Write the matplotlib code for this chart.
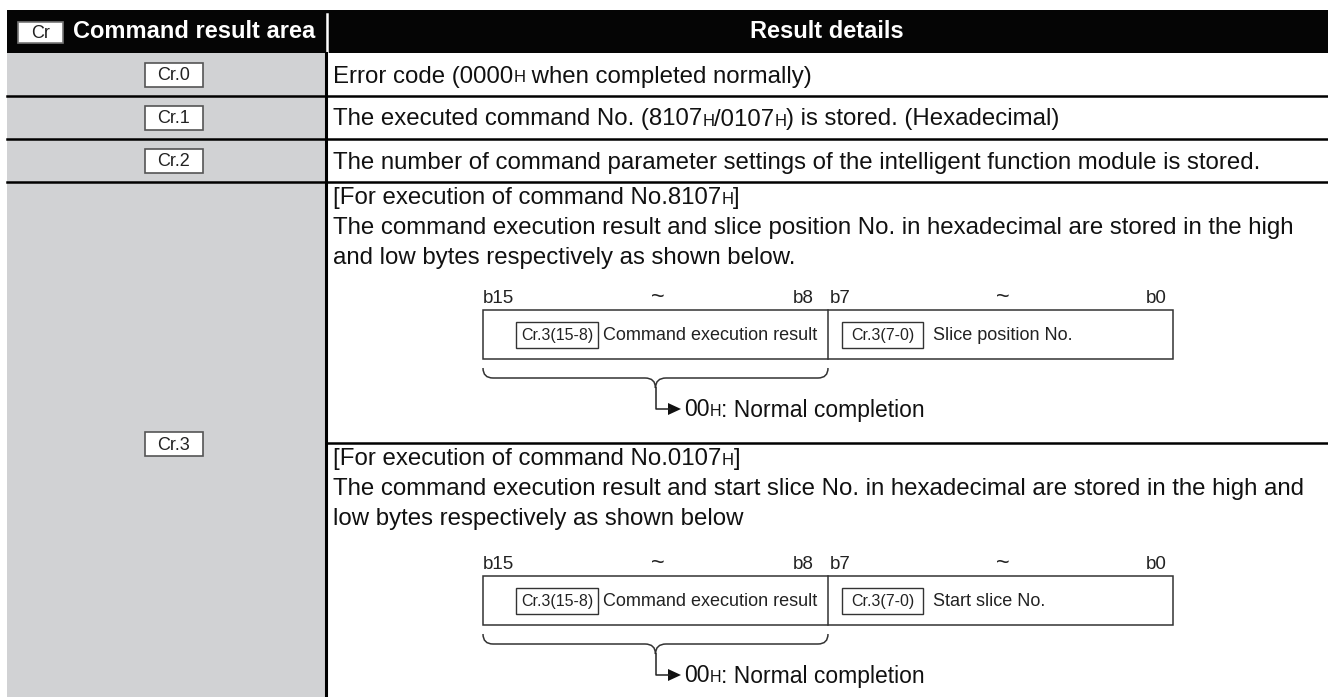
import matplotlib
matplotlib.use("Agg")
import matplotlib.pyplot as plt
from matplotlib.patches import Rectangle, Polygon, PathPatch
from matplotlib.path import Path

plt.rcParams['font.family'] = ['Liberation Sans', 'DejaVu Sans']

#%% table content

header_left = "Command result area"
header_icon = "Cr"
header_right = "Result details"

row_labels = ["Cr.0", "Cr.1", "Cr.2", "Cr.3"]

# each line is a list of pieces, every odd piece is the small "H" suffix
row_lines = [
    [["Error code (0000", "H", " when completed normally)"]],
    [["The executed command No. (8107", "H", "/0107", "H", ") is stored. (Hexadecimal)"]],
    [["The number of command parameter settings of the intelligent function module is stored."]],
]

block_lines = [
    [["[For execution of command No.8107", "H", "]"],
     ["The command execution result and slice position No. in hexadecimal are stored in the high"],
     ["and low bytes respectively as shown below."]],
    [["[For execution of command No.0107", "H", "]"],
     ["The command execution result and start slice No. in hexadecimal are stored in the high and"],
     ["low bytes respectively as shown below"]],
]

bit_labels = ["b15", "~", "b8", "b7", "~", "b0"]
field_codes = ["Cr.3(15-8)", "Cr.3(7-0)"]
field_names = [["Command execution result", "Slice position No."],
               ["Command execution result", "Start slice No."]]
result_note = ["00", "H", ": Normal completion"]

#%% layout (pixels)

W, H = 1328, 697
x0, xmid, x1 = 7, 326, 1328
row_edges = [10, 53, 96, 139, 182]
split_y = 443
bottom = 706
gray = "#d1d2d4"
body_fs = 17.3
small_fs = 12

fig = plt.figure(figsize=(W / 100, H / 100), dpi=100)
ax = fig.add_axes([0, 0, 1, 1])
ax.set_xlim(0, W)
ax.set_ylim(H, 0)
ax.axis('off')
rend = fig.canvas.get_renderer()


def put_runs(x, y, pieces, fs=body_fs, sfs=small_fs, **kw):
    for i, s in enumerate(pieces):
        t = ax.text(x, y, s, fontsize=(sfs if i % 2 else fs), ha='left',
                    va='baseline', color='#111111', **kw)
        x += t.get_window_extent(renderer=rend).width
    return x


def label_box(cx, cy, s, w=58, h=24, fs=13):
    ax.add_patch(Rectangle((cx - w / 2, cy - h / 2), w, h, facecolor='white',
                           edgecolor='#555555', lw=1.2))
    ax.text(cx, cy + 1, s, fontsize=fs, ha='center', va='center', color='#222222')


# header
ax.add_patch(Rectangle((x0, row_edges[0]), x1 - x0, row_edges[1] - row_edges[0],
                       facecolor='#050505', edgecolor='none'))
ax.plot([xmid + 1, xmid + 1], [row_edges[0] + 4, row_edges[1]], color='white', lw=1.8)
ax.add_patch(Rectangle((18, 22), 45, 21, facecolor='white', edgecolor='#777777', lw=1.2))
ax.text(40.5, 33, header_icon, fontsize=13, ha='center', va='center', color='#222222')
ax.text(73, 32, header_left, fontsize=17, fontweight='bold', color='white',
        ha='left', va='center')
ax.text((xmid + x1) / 2, 32, header_right, fontsize=17, fontweight='bold',
        color='white', ha='center', va='center')

# left gray column
ax.add_patch(Rectangle((x0, row_edges[1]), xmid - x0, bottom - row_edges[1],
                       facecolor=gray, edgecolor='none'))

# horizontal rules
for y in row_edges[2:]:
    ax.plot([x0, x1], [y, y], color='black', lw=1.8)
ax.plot([xmid, x1], [split_y, split_y], color='black', lw=1.8)
ax.plot([xmid, xmid], [row_edges[1], bottom], color='black', lw=2.2)

# first three rows
cx_label = 174
for i, lines in enumerate(row_lines):
    yc = (row_edges[i + 1] + row_edges[i + 2]) / 2
    label_box(cx_label, yc, row_labels[i])
    put_runs(333, yc + 8, lines[0])

label_box(cx_label, 444, row_labels[3])

# Cr.3 blocks
block_top = [row_edges[4], split_y]
box_top = [310, 576]
for b in range(2):
    for k, line in enumerate(block_lines[b]):
        put_runs(333, block_top[b] + 22 + 30 * k, line)

    bt = box_top[b]
    bb = bt + 49
    ax.add_patch(Rectangle((483, bt), 1173 - 483, bb - bt, facecolor='none',
                           edgecolor='#333333', lw=1.1))
    ax.plot([828, 828], [bt, bb], color='#333333', lw=1.1)

    # bit labels
    by = bt - 7
    bfs = 13.5
    ax.text(483, by, bit_labels[0], fontsize=bfs, ha='left', va='baseline', color='#222222')
    ax.text(658, by + 1, bit_labels[1], fontsize=17, ha='center', va='baseline', color='#222222')
    ax.text(814, by, bit_labels[2], fontsize=bfs, ha='right', va='baseline', color='#222222')
    ax.text(830, by, bit_labels[3], fontsize=bfs, ha='left', va='baseline', color='#222222')
    ax.text(1003, by + 1, bit_labels[4], fontsize=17, ha='center', va='baseline', color='#222222')
    ax.text(1167, by, bit_labels[5], fontsize=bfs, ha='right', va='baseline', color='#222222')

    # field code boxes and names
    ym = (bt + bb) / 2
    ax.add_patch(Rectangle((516, ym - 13), 82, 26, facecolor='white',
                           edgecolor='#333333', lw=1.0))
    ax.text(557, ym + 1, field_codes[0], fontsize=11.5, ha='center', va='center', color='#222222')
    ax.text(603, ym + 1, field_names[b][0], fontsize=13, ha='left', va='center', color='#222222')
    ax.add_patch(Rectangle((842, ym - 13), 81, 26, facecolor='white',
                           edgecolor='#333333', lw=1.0))
    ax.text(882.5, ym + 1, field_codes[1], fontsize=11.5, ha='center', va='center', color='#222222')
    ax.text(933, ym + 1, field_names[b][1], fontsize=13, ha='left', va='center', color='#222222')

    # brace under the high byte
    t0 = bb + 9
    t1 = t0 + 10
    tip = t1 + 10
    verts = [(483, t0), (483, t1), (493, t1), (645, t1), (655.5, t1), (655.5, tip),
             (655.5, t1), (666, t1), (818, t1), (828, t1), (828, t0)]
    codes = [Path.MOVETO, Path.CURVE3, Path.CURVE3, Path.LINETO, Path.CURVE3, Path.CURVE3,
             Path.CURVE3, Path.CURVE3, Path.LINETO, Path.CURVE3, Path.CURVE3]
    ax.add_patch(PathPatch(Path(verts, codes), facecolor='none', edgecolor='#333333', lw=1.1))

    # arrow to the note
    ay = tip + 21
    ax.plot([655.5, 655.5, 670], [tip, ay, ay], color='#222222', lw=1.1)
    ax.add_patch(Polygon([(668, ay - 6), (681, ay), (668, ay + 6)], closed=True,
                         facecolor='#111111', edgecolor='none'))
    put_runs(684, ay + 7.5, result_note, fs=16.5, sfs=11.5)

fig.savefig("out.png", dpi=100)
